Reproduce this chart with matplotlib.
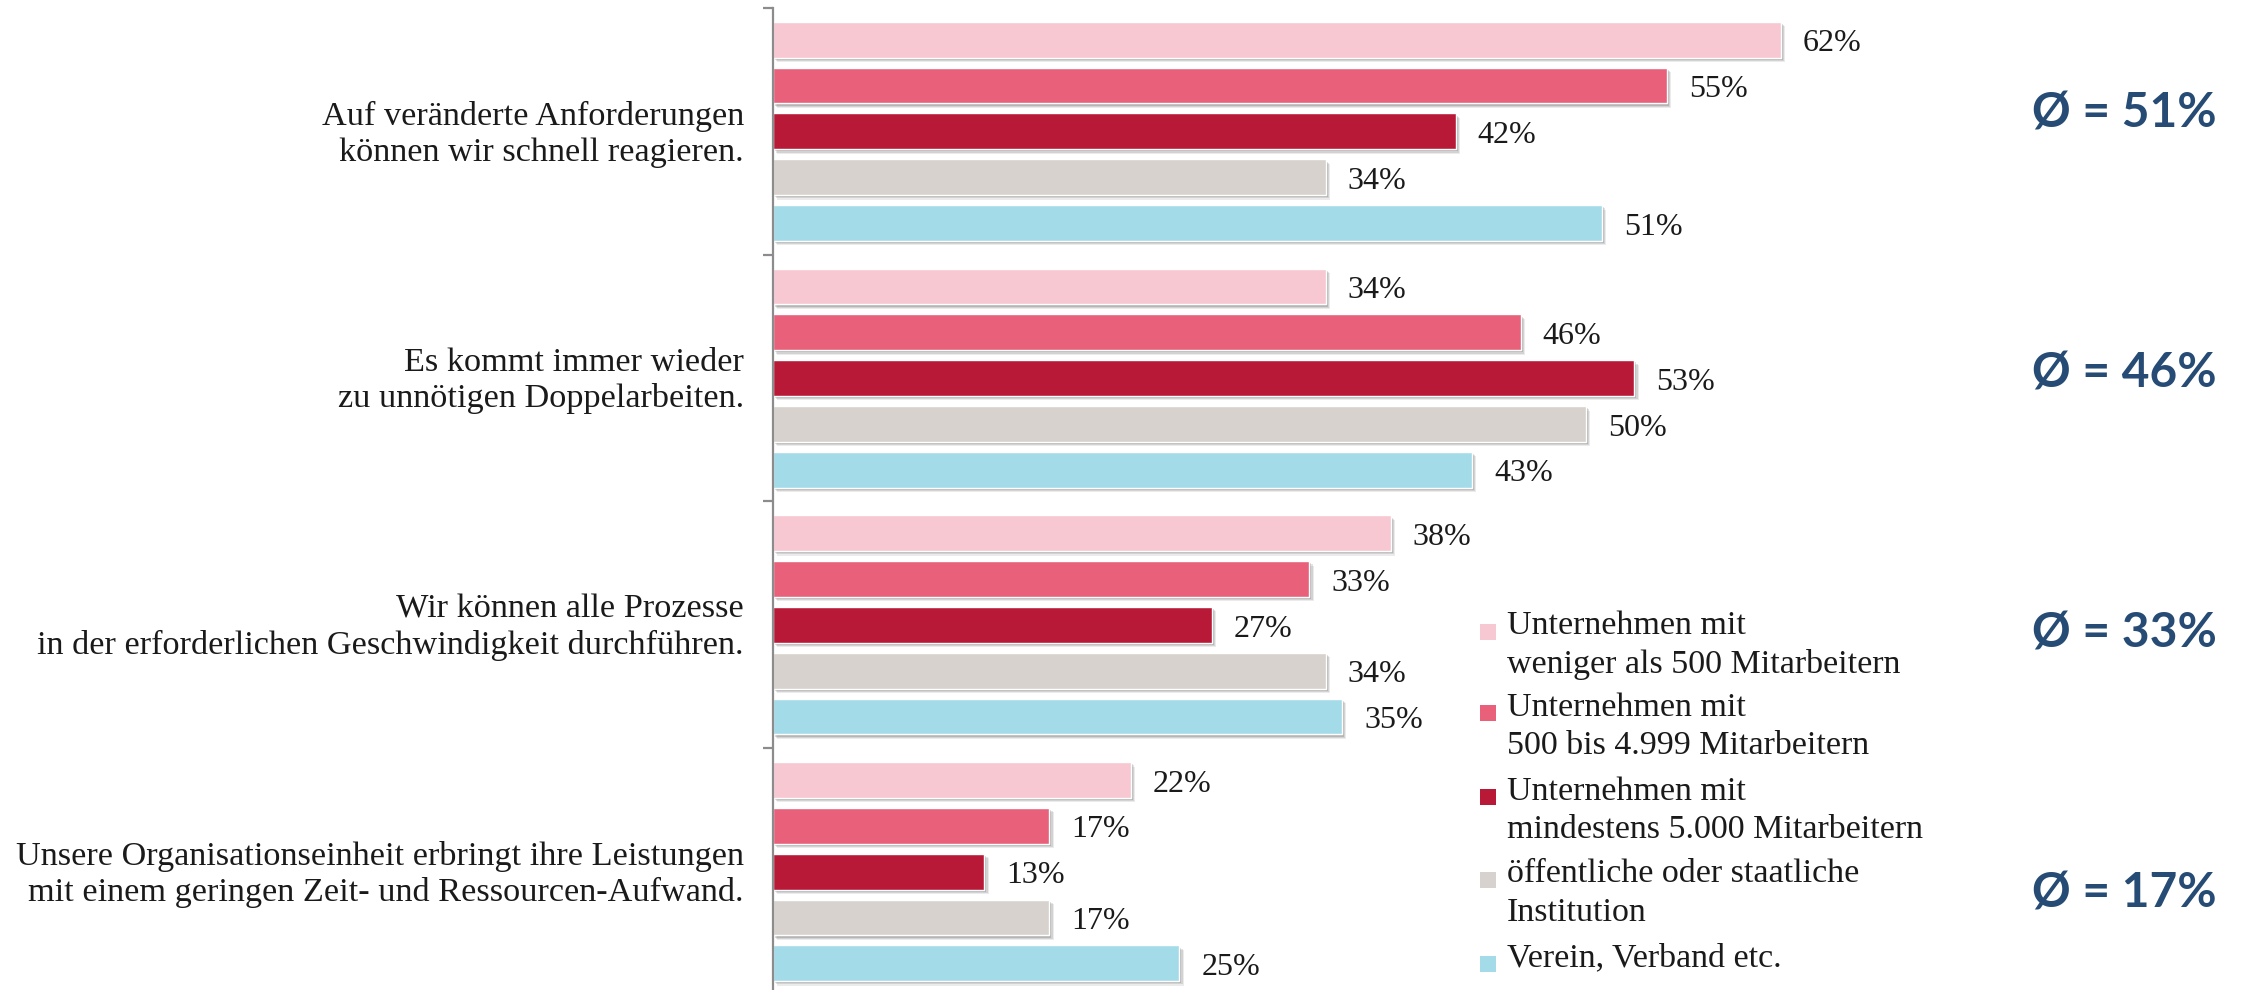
import matplotlib
matplotlib.use("Agg")
import matplotlib.pyplot as plt
from matplotlib.patches import Rectangle
import matplotlib.patheffects as pe
import numpy as np

# --- data -------------------------------------------------------------
statements = [
    "Auf veränderte Anforderungen\nkönnen wir schnell reagieren.",
    "Es kommt immer wieder\nzu unnötigen Doppelarbeiten.",
    "Wir können alle Prozesse\nin der erforderlichen Geschwindigkeit durchführen.",
    "Unsere Organisationseinheit erbringt ihre Leistungen\nmit einem geringen Zeit- und Ressourcen-Aufwand.",
]
groups = [
    "Unternehmen mit\nweniger als 500 Mitarbeitern",
    "Unternehmen mit\n500 bis 4.999 Mitarbeitern",
    "Unternehmen mit\nmindestens 5.000 Mitarbeitern",
    "öffentliche oder staatliche\nInstitution",
    "Verein, Verband etc.",
]
small_firms = [62, 34, 38, 22]
medium_firms = [55, 46, 33, 17]
large_firms = [42, 53, 27, 13]
public_institutions = [34, 50, 34, 17]
associations = [51, 43, 35, 25]
averages = [51, 46, 33, 17]

series = [small_firms, medium_firms, large_firms, public_institutions, associations]
colors = ["#F7C8D2", "#E8607A", "#B71936", "#D7D2CD", "#A4DBE8"]

# --- figure -----------------------------------------------------------
W, H, DPI = 2244, 990, 100
fig = plt.figure(figsize=(W / DPI, H / DPI), dpi=DPI)
serif = "Liberation Serif"

px_per_unit = 16.25
ax_left, ax_top, ax_bottom = 773, 8, 995
ax = fig.add_axes([ax_left / W, 1 - ax_bottom / H,
                   (W - ax_left) / W, (ax_bottom - ax_top) / H])
ax.set_xlim(0, (W - ax_left) / px_per_unit)
ax.set_ylim(len(statements), 0)

pitch = 0.1857
bar_h = 0.145
offsets = (np.arange(len(series)) - (len(series) - 1) / 2) * pitch
shadow = [
    pe.SimplePatchShadow(offset=(3.2, -3.2), shadow_rgbFace="#444444", alpha=0.10),
    pe.SimplePatchShadow(offset=(2.4, -2.4), shadow_rgbFace="#444444", alpha=0.15),
    pe.SimplePatchShadow(offset=(1.6, -1.6), shadow_rgbFace="#444444", alpha=0.20),
    pe.Normal(),
]

centers = np.arange(len(statements)) + 0.5
for vals, col, off in zip(series, colors, offsets):
    bars = ax.barh(centers + off, vals, height=bar_h, color=col,
                   edgecolor="white", linewidth=1.0, zorder=2)
    for b in bars:
        b.set_path_effects(shadow)
    for y, v in zip(centers + off, vals):
        ax.annotate(f"{v}%", xy=(v, y), xytext=(16, -3), textcoords="offset points",
                    ha="left", va="center", fontsize=23, family=serif, color="#1a1a1a")

# statement labels
for y, s in zip(centers, statements):
    ax.annotate(s, xy=(0, y), xytext=(-21, -2), textcoords="offset points",
                ha="right", va="center", multialignment="right",
                fontsize=24.7, family=serif, color="#1a1a1a", linespacing=1.22)

# axis styling
for side in ["top", "right", "bottom"]:
    ax.spines[side].set_visible(False)
ax.spines["left"].set_color("#8c8c8c")
ax.spines["left"].set_linewidth(1.6)
ax.set_yticks(np.arange(len(statements) + 1))
ax.set_yticklabels([])
ax.tick_params(axis="y", length=7, width=1.6, color="#8c8c8c", direction="out")
ax.set_xticks([])
ax.patch.set_alpha(0)

# average values
for i, a in enumerate(averages):
    fig.text(2124 / W, 1 - (113 + 260 * i) / H, f"Ø = {a}%", ha="center", va="center",
             fontsize=34.5, fontweight="bold", family="Lato", color="#264B74")

# legend
leg_first_line = [632, 713, 797, 880, 964]
for yc, col, lab in zip(leg_first_line, colors, groups):
    fig.add_artist(Rectangle((1480 / W, 1 - (yc + 8) / H), 16 / W, 16 / H,
                             transform=fig.transFigure, facecolor=col, edgecolor="none"))
    fig.text(1507 / W, 1 - (yc - 21) / H, lab, ha="left", va="top",
             fontsize=24.5, family=serif, color="#1a1a1a", linespacing=1.33)

fig.savefig("out.png", dpi=DPI)
